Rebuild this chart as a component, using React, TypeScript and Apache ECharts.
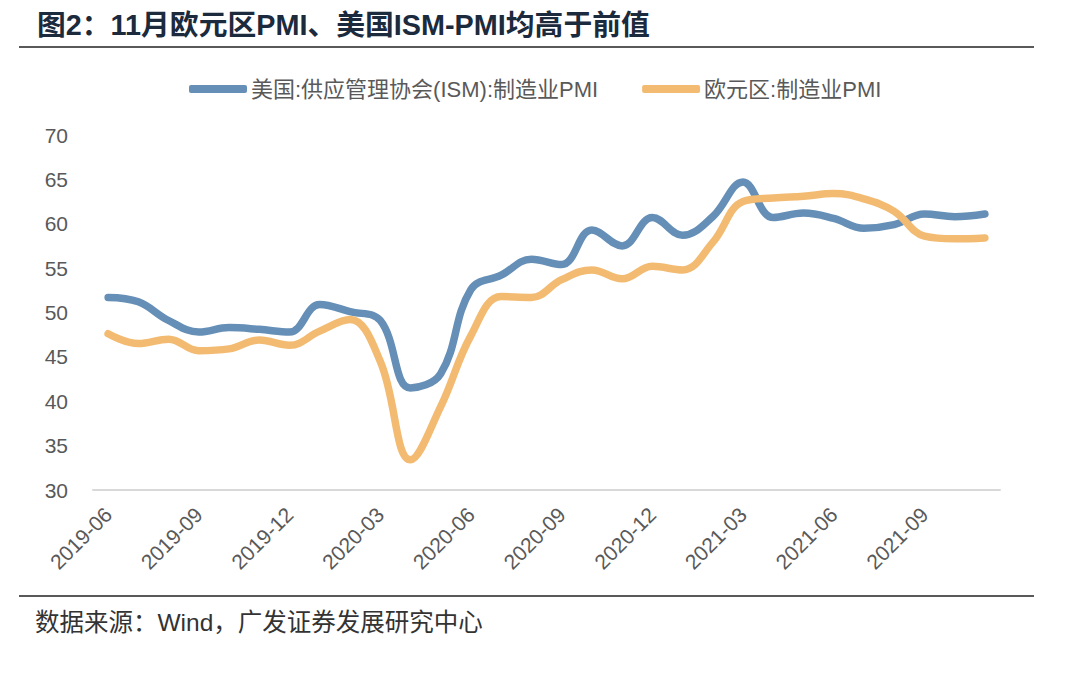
import React, { useEffect, useRef } from "react";
import * as echarts from "echarts";

const months = [
  "2019-06","2019-07","2019-08","2019-09","2019-10","2019-11","2019-12",
  "2020-01","2020-02","2020-03","2020-04","2020-05","2020-06","2020-07","2020-08","2020-09","2020-10","2020-11","2020-12",
  "2021-01","2021-02","2021-03","2021-04","2021-05","2021-06","2021-07","2021-08","2021-09","2021-10","2021-11",
];
const usIsm = [51.7,51.2,49.1,47.8,48.3,48.1,47.8,50.9,50.1,49.1,41.5,43.1,52.6,54.2,56.0,55.4,59.3,57.5,60.7,58.7,60.8,64.7,60.7,61.2,60.6,59.5,59.9,61.1,60.8,61.1];
const euroPmi = [47.6,46.5,47.0,45.7,45.9,46.9,46.3,47.9,49.2,44.5,33.4,39.4,47.4,51.8,51.7,53.7,54.8,53.8,55.2,54.8,57.9,62.5,62.9,63.1,63.4,62.8,61.4,58.6,58.3,58.4];
const seriesNames = ["美国:供应管理协会(ISM):制造业PMI", "欧元区:制造业PMI"];
const titleText = "图2：11月欧元区PMI、美国ISM-PMI均高于前值";
const sourceText = "数据来源：Wind，广发证券发展研究中心";

const FONT = "'Liberation Sans', 'Noto Sans CJK SC', sans-serif";

export default function App() {
  const ref = useRef<HTMLDivElement>(null);
  useEffect(() => {
    const chart = echarts.init(ref.current!, undefined, { renderer: "svg" });
    chart.setOption({
      animation: false,
      backgroundColor: "#ffffff",
      textStyle: { fontFamily: FONT },
      grid: { left: 93, right: 80, top: 135, bottom: 183 },
      legend: {
        left: 184,
        top: 73,
        itemWidth: 58,
        itemHeight: 8,
        itemGap: 44,
        icon: "roundRect",
        textStyle: { fontSize: 22, color: "#595959", fontFamily: FONT, padding: [0, 0, 0, -1] },
        data: seriesNames,
      },
      xAxis: {
        type: "category",
        data: months,
        boundaryGap: true,
        axisLine: { show: true, lineStyle: { color: "#d9d9d9", width: 2 } },
        axisTick: { show: false },
        axisLabel: {
          interval: 2,
          rotate: 45,
          fontSize: 21,
          color: "#595959",
          margin: 21,
          fontFamily: FONT,
        },
        splitLine: { show: false },
      },
      yAxis: {
        type: "value",
        min: 30,
        max: 70,
        interval: 5,
        axisLine: { show: false },
        axisTick: { show: false },
        splitLine: { show: false },
        axisLabel: { fontSize: 21, color: "#595959", margin: 25, fontFamily: FONT },
      },
      series: [
        {
          name: seriesNames[0],
          type: "line",
          data: usIsm,
          smooth: 0.4,
          showSymbol: false,
          lineStyle: { color: "#658fb6", width: 7.5, cap: "round" },
          itemStyle: { color: "#658fb6" },
        },
        {
          name: seriesNames[1],
          type: "line",
          data: euroPmi,
          smooth: 0.4,
          showSymbol: false,
          lineStyle: { color: "#f3bb72", width: 7.5, cap: "round" },
          itemStyle: { color: "#f3bb72" },
        },
      ],
      graphic: [
        {
          type: "text",
          x: 37,
          y: 25,
          style: {
            text: titleText,
            fontSize: 28.8,
            fontWeight: "bold",
            fill: "#1b2a3c",
            fontFamily: FONT,
            verticalAlign: "middle",
          },
        },
        {
          type: "line",
          shape: { x1: 19, y1: 47, x2: 1034, y2: 47 },
          style: { stroke: "#222222", lineWidth: 1.5 },
        },
        {
          type: "line",
          shape: { x1: 19, y1: 596, x2: 1034, y2: 596 },
          style: { stroke: "#222222", lineWidth: 1.5 },
        },
        {
          type: "text",
          x: 35,
          y: 622,
          style: {
            text: sourceText,
            fontSize: 24.5,
            fill: "#333333",
            fontFamily: FONT,
            verticalAlign: "middle",
          },
        },
      ],
    });
    return () => chart.dispose();
  }, []);
  return (
    <div
      ref={ref}
      style={{ position: "fixed", left: 0, top: 0, width: 1080, height: 673 }}
    />
  );
}
